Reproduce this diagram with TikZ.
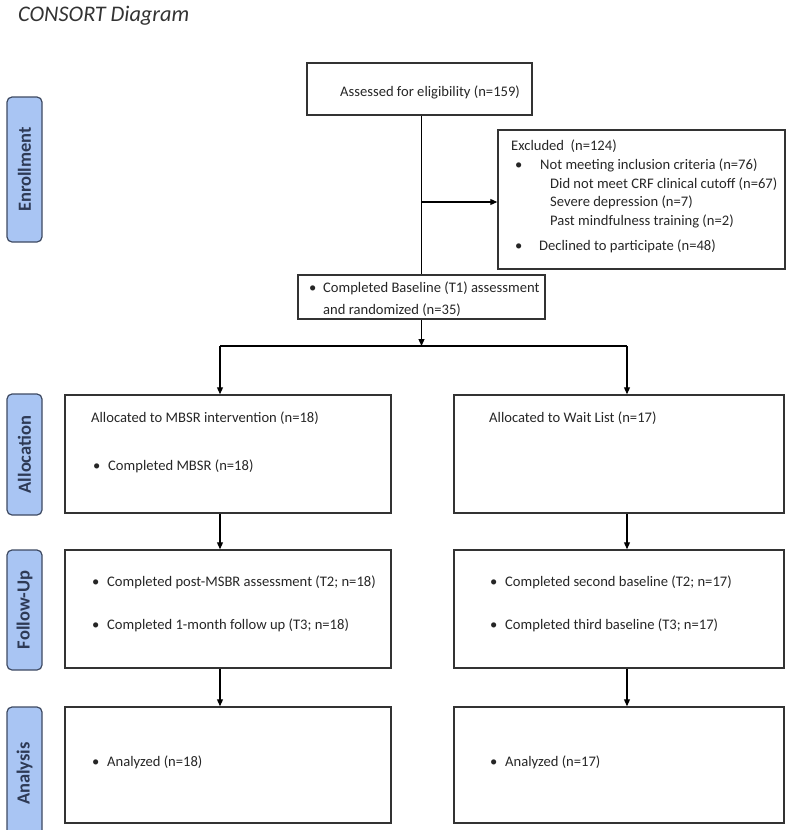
\documentclass[tikz,border=0pt]{standalone}
\usepackage{fontspec}
\setmainfont{Carlito}
\usetikzlibrary{arrows.meta, positioning}
\definecolor{labelblue}{HTML}{A9C5F3}
\definecolor{labeledge}{HTML}{3E4A62}
\definecolor{labeltext}{HTML}{2E3A55}
\newcommand{\itembul}[1][15pt]{\makebox[#1][l]{\textbullet}}

\begin{document}
\begin{tikzpicture}[
    x=1pt, y=-1pt,
    every node/.style={font=\fontsize{14.6}{17}\selectfont, text=black!85},
    box/.style={draw=black!80, line width=1.5pt, rectangle, inner sep=0pt},
    txt/.style={anchor=west, inner sep=0pt, text height=10pt, text depth=3.5pt},
    stage/.style={draw=labeledge, line width=1.2pt, fill=labelblue, rounded corners=5pt, minimum height=35pt, rotate=90, text=labeltext, font=\fontsize{18.5}{20}\selectfont\bfseries},
    arrow/.style={-{Triangle[length=7pt, width=6pt]}, line width=1.2pt, draw=black},
    line/.style={line width=1.2pt, draw=black}
]
\useasboundingbox (0,0) rectangle (800,830);

\node[anchor=west, inner sep=0pt, font=\fontsize{22.3}{25}\selectfont\itshape, text=black!80] (title) at (18,16) {CONSORT Diagram};

% stage labels
\node[stage, minimum width=145pt] (enrol) at (24.5,169.5) {Enrollment};
\node[stage, minimum width=121pt] (allocation) at (24.5,454.5) {Allocation};
\node[stage, minimum width=120pt] (followup) at (24.5,610) {Follow-Up};
\node[stage, minimum width=133pt] (analysis) at (24.5,773.5) {Analysis};

% enrollment
\node[box, minimum width=225pt, minimum height=52pt] (assess) at (419.5,89) {};
\node[txt] (assesstxt) at (340,93) {Assessed for eligibility (n=159)};

\node[box, minimum width=287pt, minimum height=139pt] (excl) at (641.5,199.5) {};
\node[txt] (ex1) at (511,147) {Excluded\ \ (n=124)};
\node[txt] (ex2) at (515,166) {\itembul[25pt]Not meeting inclusion criteria (n=76)};
\node[txt] (ex3) at (550,185) {Did not meet CRF clinical cutoff (n=67)};
\node[txt] (ex4) at (550,203) {Severe depression (n=7)};
\node[txt] (ex5) at (550,222) {Past mindfulness training (n=2)};
\node[txt] (ex6) at (515,247) {\itembul[24pt]Declined to participate (n=48)};

\node[box, minimum width=247pt, minimum height=44pt] (base) at (421.5,297) {};
\node[txt] (base1) at (309,289) {\itembul[14pt]Completed Baseline (T1) assessment};
\node[txt] (base2) at (323,311) {and randomized (n=35)};

% allocation
\node[box, minimum width=326pt, minimum height=118pt] (allocL) at (228,454) {};
\node[txt] (allocL1) at (91,419) {Allocated to MBSR intervention (n=18)};
\node[txt] (allocL2) at (93,467) {\itembul Completed MBSR (n=18)};

\node[box, minimum width=330pt, minimum height=118pt] (allocR) at (619,454) {};
\node[txt] (allocR1) at (489,419) {Allocated to Wait List (n=17)};

% follow-up
\node[box, minimum width=326pt, minimum height=118pt] (followL) at (228,609) {};
\node[txt] (followL1) at (92,583) {\itembul Completed post-MSBR assessment (T2; n=18)};
\node[txt] (followL2) at (92,626) {\itembul Completed 1-month follow up (T3; n=18)};

\node[box, minimum width=330pt, minimum height=118pt] (followR) at (619,609) {};
\node[txt] (followR1) at (490,583) {\itembul Completed second baseline (T2; n=17)};
\node[txt] (followR2) at (490,626) {\itembul Completed third baseline (T3; n=17)};

% analysis
\node[box, minimum width=326pt, minimum height=116pt] (anaL) at (228,765) {};
\node[txt] (anaL1) at (92,763) {\itembul Analyzed (n=18)};

\node[box, minimum width=330pt, minimum height=116pt] (anaR) at (619,765) {};
\node[txt] (anaR1) at (490,763) {\itembul Analyzed (n=17)};

% connectors
\coordinate (exbr) at (421.5,202);
\coordinate (split) at (421.5,346);
\coordinate (splitL) at (220,346);
\coordinate (splitR) at (627,346);

\draw[line] (base.north |- assess.south) -- (base.north);
\draw[arrow] (exbr) -- (exbr -| excl.west);
\draw[arrow] (base.south) -- (split);
\draw[line] (splitL) -- (splitR);
\draw[arrow] (splitL) -- (splitL |- allocL.north);
\draw[arrow] (splitR) -- (splitR |- allocR.north);
\draw[arrow] (allocL.south -| splitL) -- (followL.north -| splitL);
\draw[arrow] (allocR.south -| splitR) -- (followR.north -| splitR);
\draw[arrow] (followL.south -| splitL) -- (anaL.north -| splitL);
\draw[arrow] (followR.south -| splitR) -- (anaR.north -| splitR);

\end{tikzpicture}
\end{document}
